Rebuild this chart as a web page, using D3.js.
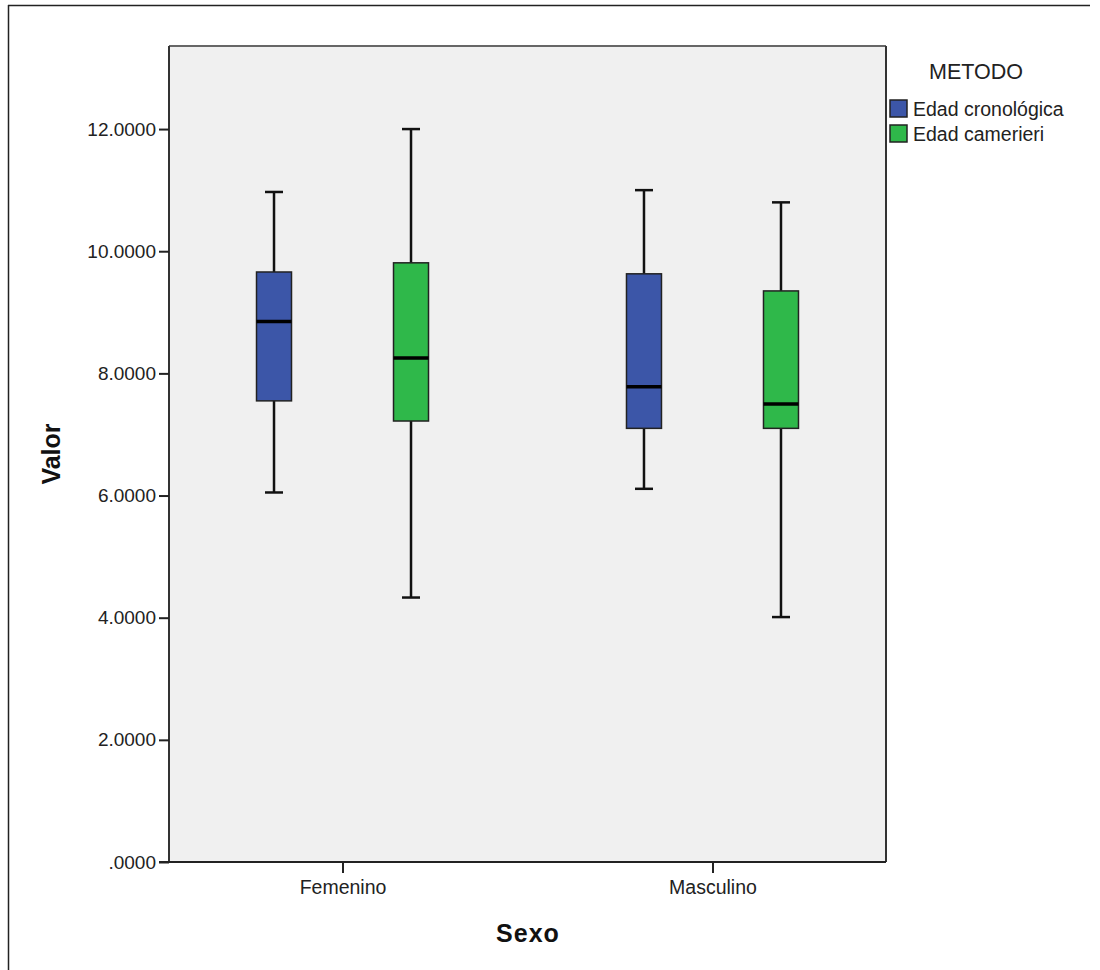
<!DOCTYPE html>
<html>
<head>
<meta charset="utf-8">
<script src="https://cdn.jsdelivr.net/npm/d3@7"></script>
<style>
  body { margin: 0; background: #fff; }
  svg { display: block; font-family: Arial, "Liberation Sans", sans-serif; }
</style>
</head>
<body>
<svg id="chart" width="1100" height="970"></svg>
<script>
const categories = ["Femenino", "Masculino"];
const methods = ["Edad cronológica", "Edad camerieri"];
const methodColors = ["#3c56a8", "#2fb84a"];
// per category, per method: [min, q1, median, q3, max]
const femeninoStats = [
  [6.05, 7.55, 8.85, 9.66, 10.97],
  [4.33, 7.22, 8.25, 9.81, 12.0]
];
const masculinoStats = [
  [6.11, 7.10, 7.78, 9.63, 11.0],
  [4.01, 7.10, 7.50, 9.35, 10.80]
];
const yTicks = [0, 2, 4, 6, 8, 10, 12];
const yDomain = [0, 13.36];

const data = [];
categories.forEach((c, ci) => {
  const stats = ci === 0 ? femeninoStats : masculinoStats;
  methods.forEach((m, mi) => {
    const s = stats[mi];
    data.push({cat: c, method: m, mi, min: s[0], q1: s[1], med: s[2], q3: s[3], max: s[4]});
  });
});

const svg = d3.select("#chart");
const L = 169, R = 886, T = 46, B = 862;

// outer frame
svg.append("line").attr("x1", 8).attr("x2", 1090).attr("y1", 5.5).attr("y2", 5.5).attr("stroke", "#222").attr("stroke-width", 1.5);
svg.append("line").attr("x1", 8.5).attr("x2", 8.5).attr("y1", 5).attr("y2", 970).attr("stroke", "#222").attr("stroke-width", 1.5);

const y = d3.scaleLinear().domain(yDomain).range([B, T]);
const x = d3.scalePoint().domain(categories).range([L, R]).padding(0.469);
const sub = d3.scalePoint().domain(methods).range([-68.5, 68.5]);

// plot background
svg.append("rect").attr("x", L).attr("y", T).attr("width", R - L).attr("height", B - T)
  .attr("fill", "#f0f0f0");

// boxes
const boxW = 35, capW = 18;
const g = svg.append("g");
data.forEach(d => {
  const cx = x(d.cat) + sub(d.method);
  g.append("line").attr("x1", cx).attr("x2", cx).attr("y1", y(d.max)).attr("y2", y(d.q3))
    .attr("stroke", "#111").attr("stroke-width", 2.5);
  g.append("line").attr("x1", cx).attr("x2", cx).attr("y1", y(d.q1)).attr("y2", y(d.min))
    .attr("stroke", "#111").attr("stroke-width", 2.5);
  g.append("line").attr("x1", cx - capW / 2).attr("x2", cx + capW / 2).attr("y1", y(d.max)).attr("y2", y(d.max))
    .attr("stroke", "#111").attr("stroke-width", 2.5);
  g.append("line").attr("x1", cx - capW / 2).attr("x2", cx + capW / 2).attr("y1", y(d.min)).attr("y2", y(d.min))
    .attr("stroke", "#111").attr("stroke-width", 2.5);
  g.append("rect").attr("x", cx - boxW / 2).attr("y", y(d.q3)).attr("width", boxW).attr("height", y(d.q1) - y(d.q3))
    .attr("fill", methodColors[d.mi]).attr("stroke", "#222").attr("stroke-width", 1.5);
  g.append("line").attr("x1", cx - boxW / 2).attr("x2", cx + boxW / 2).attr("y1", y(d.med)).attr("y2", y(d.med))
    .attr("stroke", "#000").attr("stroke-width", 3.5);
});

// plot frame
svg.append("line").attr("x1", L).attr("x2", R).attr("y1", T).attr("y2", T).attr("stroke", "#666").attr("stroke-width", 2);
svg.append("line").attr("x1", R).attr("x2", R).attr("y1", T).attr("y2", B).attr("stroke", "#333").attr("stroke-width", 2);

// axes
const yAxis = d3.axisLeft(y).tickValues(yTicks).tickSize(10).tickPadding(3)
  .tickFormat(v => v === 0 ? ".0000" : d3.format(".4f")(v));
const yg = svg.append("g").attr("transform", `translate(${L},0)`).call(yAxis);
yg.select(".domain").attr("stroke", "#333").attr("stroke-width", 2).attr("d", `M-0,${T}V${B}`);
yg.selectAll(".tick line").attr("stroke", "#222").attr("stroke-width", 2);
yg.selectAll(".tick text").attr("font-size", 19).attr("fill", "#222").attr("font-family", "Arial, 'Liberation Sans', sans-serif");

const xAxis = d3.axisBottom(x).tickSize(11).tickPadding(7);
const xg = svg.append("g").attr("transform", `translate(0,${B})`).call(xAxis);
xg.select(".domain").attr("stroke", "#222").attr("stroke-width", 2).attr("d", `M${L - 10},0H${R}`);
xg.selectAll(".tick line").attr("stroke", "#222").attr("stroke-width", 2);
xg.selectAll(".tick text").attr("font-size", 19.5).attr("fill", "#222").attr("font-family", "Arial, 'Liberation Sans', sans-serif");

// axis titles
svg.append("text").attr("x", 528).attr("y", 942).attr("text-anchor", "middle")
  .attr("font-size", 25).attr("font-weight", "bold").attr("fill", "#111").attr("letter-spacing", 1).text("Sexo");
svg.append("text").attr("transform", "translate(60,454) rotate(-90)").attr("text-anchor", "middle")
  .attr("font-size", 25).attr("font-weight", "bold").attr("fill", "#111").text("Valor");

// legend
svg.append("text").attr("x", 929).attr("y", 79).attr("font-size", 21.5).attr("fill", "#222").text("METODO");
methods.forEach((m, i) => {
  svg.append("rect").attr("x", 890).attr("y", 100 + i * 25).attr("width", 17).attr("height", 17)
    .attr("fill", methodColors[i]).attr("stroke", "#222").attr("stroke-width", 1.5);
  svg.append("text").attr("x", 913).attr("y", 116 + i * 25).attr("font-size", 19.5).attr("fill", "#222").text(m);
});
</script>
</body>
</html>
